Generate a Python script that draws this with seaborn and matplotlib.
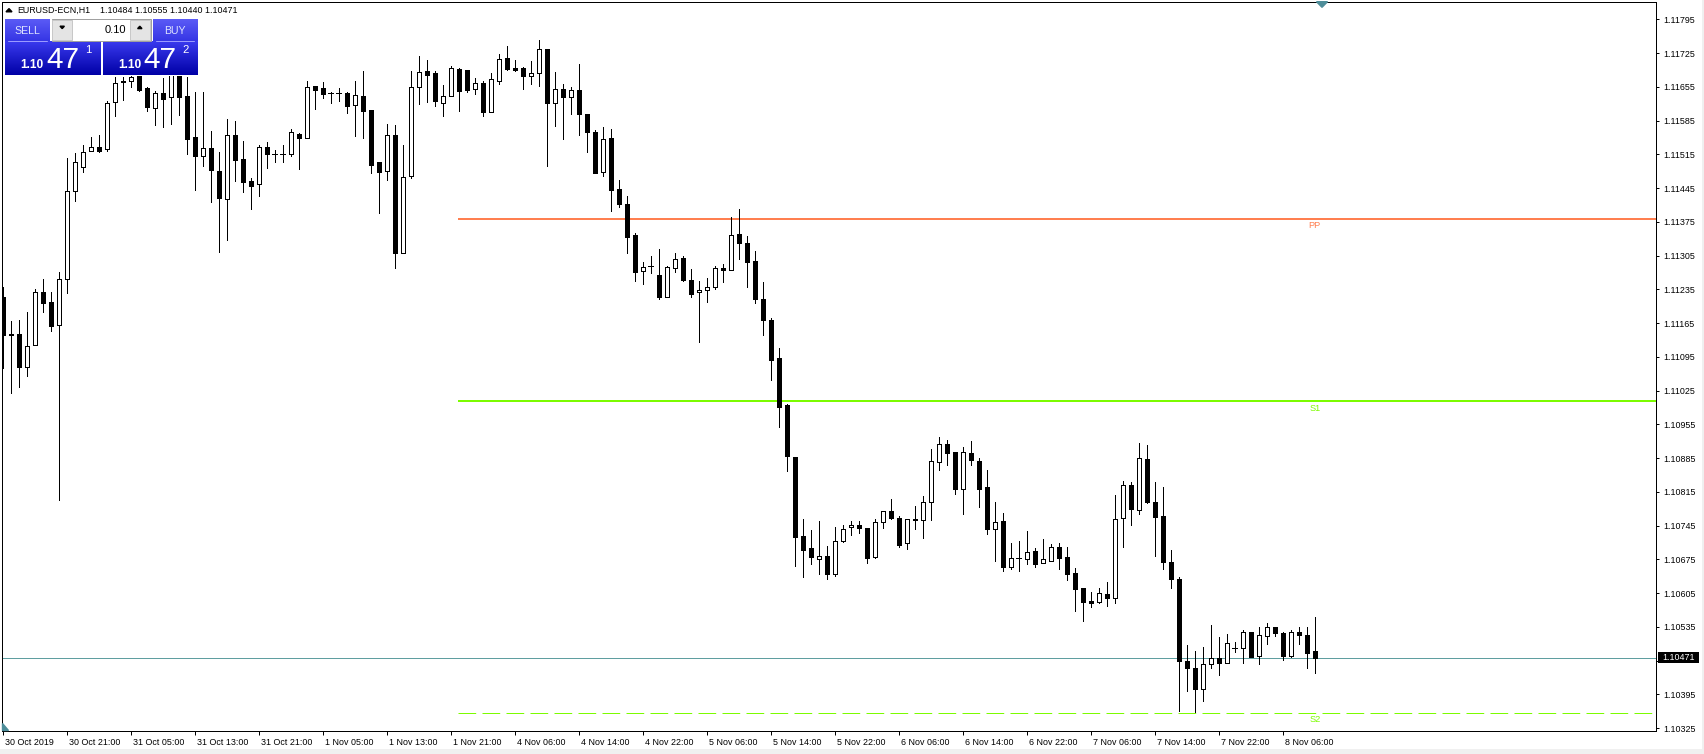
import numpy as np
import matplotlib
matplotlib.use("Agg")
import matplotlib.pyplot as plt
import matplotlib.colors as mcolors
import matplotlib.transforms as mtransforms
from matplotlib.patches import Rectangle, Polygon
import seaborn as sns

# ---------------- data (EURUSD-ECN, H1) ----------------
opens = [1.11218, 1.11140, 1.11142, 1.11074, 1.11119, 1.11229, 1.11208, 1.11160, 1.11256, 1.11438,
         1.11488, 1.11521, 1.11530, 1.11527, 1.11623, 1.11666, 1.11666, 1.11690, 1.11652, 1.11612,
         1.11642, 1.11633, 1.11679, 1.11636, 1.11550, 1.11512, 1.11528, 1.11480, 1.11423, 1.11556,
         1.11505, 1.11460, 1.11453, 1.11530, 1.11516, 1.11516, 1.11516, 1.11557, 1.11548, 1.11657,
         1.11652, 1.11642, 1.11642, 1.11642, 1.11618, 1.11636, 1.11607, 1.11498, 1.11481, 1.11554,
         1.11311, 1.11469, 1.11654, 1.11687, 1.11683, 1.11621, 1.11635, 1.11691, 1.11690, 1.11650,
         1.11663, 1.11602, 1.11668, 1.11714, 1.11694, 1.11694, 1.11677, 1.11683, 1.11733, 1.11622,
         1.11650, 1.11633, 1.11648, 1.11599, 1.11561, 1.11479, 1.11548, 1.11443, 1.11411, 1.11348,
         1.11272, 1.11283, 1.11264, 1.11220, 1.11279, 1.11300, 1.11255, 1.11229, 1.11234, 1.11239,
         1.11279, 1.11276, 1.11350, 1.11332, 1.11293, 1.11215, 1.11171, 1.11093, 1.10995, 1.10888,
         1.10724, 1.10698, 1.10676, 1.10682, 1.10645, 1.10713, 1.10741, 1.10746, 1.10739, 1.10680,
         1.10752, 1.10775, 1.10761, 1.10708, 1.10759, 1.10756, 1.10794, 1.10877, 1.10914, 1.10897,
         1.10820, 1.10895, 1.10879, 1.10824, 1.10737, 1.10754, 1.10658, 1.10677, 1.10675, 1.10692,
         1.10668, 1.10672, 1.10700, 1.10680, 1.10646, 1.10615, 1.10588, 1.10587, 1.10604, 1.10595,
         1.10760, 1.10830, 1.10777, 1.10882, 1.10793, 1.10765, 1.10669, 1.10634, 1.10464, 1.10449,
         1.10407, 1.10457, 1.10470, 1.10459, 1.10492, 1.10490, 1.10524, 1.10474, 1.10516, 1.10534,
         1.10522, 1.10475, 1.10524, 1.10517, 1.10484]
highs = [1.11240, 1.11169, 1.11171, 1.11188, 1.11236, 1.11256, 1.11229, 1.11270, 1.11508, 1.11517,
         1.11534, 1.11550, 1.11555, 1.11626, 1.11676, 1.11676, 1.11683, 1.11698, 1.11655, 1.11646,
         1.11673, 1.11700, 1.11690, 1.11676, 1.11645, 1.11644, 1.11563, 1.11520, 1.11588, 1.11585,
         1.11543, 1.11466, 1.11534, 1.11540, 1.11524, 1.11534, 1.11567, 1.11559, 1.11667, 1.11657,
         1.11664, 1.11644, 1.11652, 1.11644, 1.11667, 1.11688, 1.11607, 1.11498, 1.11577, 1.11575,
         1.11534, 1.11688, 1.11719, 1.11711, 1.11688, 1.11659, 1.11698, 1.11693, 1.11690, 1.11673,
         1.11666, 1.11683, 1.11723, 1.11740, 1.11711, 1.11697, 1.11708, 1.11753, 1.11733, 1.11685,
         1.11661, 1.11654, 1.11702, 1.11599, 1.11565, 1.11571, 1.11568, 1.11461, 1.11429, 1.11352,
         1.11291, 1.11305, 1.11318, 1.11283, 1.11311, 1.11304, 1.11277, 1.11252, 1.11259, 1.11283,
         1.11288, 1.11384, 1.11402, 1.11345, 1.11314, 1.11250, 1.11176, 1.11114, 1.10997, 1.10888,
         1.10759, 1.10736, 1.10754, 1.10702, 1.10741, 1.10746, 1.10754, 1.10754, 1.10739, 1.10759,
         1.10775, 1.10800, 1.10765, 1.10759, 1.10786, 1.10806, 1.10904, 1.10929, 1.10922, 1.10897,
         1.10907, 1.10920, 1.10886, 1.10860, 1.10793, 1.10772, 1.10708, 1.10713, 1.10734, 1.10699,
         1.10717, 1.10707, 1.10709, 1.10701, 1.10657, 1.10615, 1.10608, 1.10616, 1.10627, 1.10808,
         1.10837, 1.10836, 1.10917, 1.10912, 1.10836, 1.10824, 1.10694, 1.10639, 1.10497, 1.10485,
         1.10493, 1.10539, 1.10514, 1.10520, 1.10503, 1.10528, 1.10525, 1.10535, 1.10542, 1.10534,
         1.10524, 1.10528, 1.10534, 1.10534, 1.10555]
lows = [1.11071, 1.11019, 1.11033, 1.11056, 1.11119, 1.11188, 1.11149, 1.10798, 1.11227, 1.11419,
        1.11479, 1.11521, 1.11520, 1.11522, 1.11595, 1.11628, 1.11655, 1.11646, 1.11605, 1.11576,
        1.11572, 1.11578, 1.11596, 1.11516, 1.11441, 1.11491, 1.11416, 1.11313, 1.11337, 1.11460,
        1.11437, 1.11402, 1.11429, 1.11487, 1.11498, 1.11500, 1.11511, 1.11485, 1.11548, 1.11609,
        1.11632, 1.11622, 1.11625, 1.11601, 1.11553, 1.11549, 1.11477, 1.11394, 1.11462, 1.11280,
        1.11311, 1.11466, 1.11619, 1.11623, 1.11615, 1.11594, 1.11635, 1.11605, 1.11645, 1.11640,
        1.11595, 1.11602, 1.11660, 1.11690, 1.11688, 1.11650, 1.11661, 1.11657, 1.11491, 1.11574,
        1.11547, 1.11598, 1.11555, 1.11520, 1.11477, 1.11471, 1.11397, 1.11406, 1.11311, 1.11252,
        1.11245, 1.11268, 1.11215, 1.11220, 1.11271, 1.11252, 1.11218, 1.11126, 1.11209, 1.11236,
        1.11250, 1.11276, 1.11298, 1.11240, 1.11207, 1.11140, 1.11047, 1.10950, 1.10859, 1.10661,
        1.10638, 1.10665, 1.10645, 1.10635, 1.10641, 1.10711, 1.10725, 1.10729, 1.10667, 1.10678,
        1.10739, 1.10758, 1.10701, 1.10696, 1.10738, 1.10720, 1.10757, 1.10860, 1.10871, 1.10810,
        1.10769, 1.10871, 1.10784, 1.10727, 1.10671, 1.10651, 1.10655, 1.10651, 1.10665, 1.10660,
        1.10668, 1.10672, 1.10655, 1.10632, 1.10568, 1.10548, 1.10577, 1.10585, 1.10579, 1.10585,
        1.10701, 1.10746, 1.10769, 1.10792, 1.10682, 1.10654, 1.10615, 1.10361, 1.10402, 1.10358,
        1.10382, 1.10450, 1.10434, 1.10459, 1.10483, 1.10459, 1.10473, 1.10457, 1.10499, 1.10516,
        1.10467, 1.10472, 1.10499, 1.10450, 1.10440]
closes = [1.11140, 1.11142, 1.11074, 1.11117, 1.11229, 1.11207, 1.11159, 1.11256, 1.11438, 1.11498,
          1.11519, 1.11530, 1.11522, 1.11621, 1.11662, 1.11665, 1.11676, 1.11648, 1.11614, 1.11642,
          1.11629, 1.11690, 1.11634, 1.11547, 1.11511, 1.11528, 1.11482, 1.11425, 1.11556, 1.11503,
          1.11458, 1.11450, 1.11530, 1.11515, 1.11516, 1.11516, 1.11561, 1.11548, 1.11654, 1.11648,
          1.11640, 1.11642, 1.11642, 1.11616, 1.11637, 1.11605, 1.11493, 1.11479, 1.11554, 1.11311,
          1.11467, 1.11654, 1.11685, 1.11680, 1.11626, 1.11635, 1.11693, 1.11647, 1.11648, 1.11662,
          1.11602, 1.11671, 1.11712, 1.11692, 1.11690, 1.11678, 1.11683, 1.11733, 1.11622, 1.11650,
          1.11633, 1.11648, 1.11598, 1.11561, 1.11477, 1.11546, 1.11440, 1.11411, 1.11343, 1.11271,
          1.11281, 1.11283, 1.11218, 1.11281, 1.11297, 1.11254, 1.11226, 1.11234, 1.11240, 1.11279,
          1.11276, 1.11347, 1.11332, 1.11291, 1.11215, 1.11171, 1.11089, 1.10991, 1.10890, 1.10722,
          1.10695, 1.10679, 1.10682, 1.10645, 1.10713, 1.10738, 1.10746, 1.10739, 1.10678, 1.10752,
          1.10775, 1.10761, 1.10705, 1.10759, 1.10756, 1.10793, 1.10879, 1.10914, 1.10895, 1.10821,
          1.10897, 1.10880, 1.10821, 1.10738, 1.10752, 1.10660, 1.10677, 1.10677, 1.10690, 1.10665,
          1.10675, 1.10700, 1.10678, 1.10644, 1.10613, 1.10587, 1.10585, 1.10606, 1.10595, 1.10758,
          1.10830, 1.10779, 1.10886, 1.10794, 1.10763, 1.10670, 1.10635, 1.10465, 1.10449, 1.10407,
          1.10457, 1.10470, 1.10459, 1.10501, 1.10492, 1.10524, 1.10473, 1.10517, 1.10535, 1.10522,
          1.10474, 1.10524, 1.10519, 1.10481, 1.10471]

date_ticks = ["30 Oct 2019", "30 Oct 21:00", "31 Oct 05:00", "31 Oct 13:00", "31 Oct 21:00",
              "1 Nov 05:00", "1 Nov 13:00", "1 Nov 21:00", "4 Nov 06:00", "4 Nov 14:00",
              "4 Nov 22:00", "5 Nov 06:00", "5 Nov 14:00", "5 Nov 22:00", "6 Nov 06:00",
              "6 Nov 14:00", "6 Nov 22:00", "7 Nov 06:00", "7 Nov 14:00", "7 Nov 22:00",
              "8 Nov 06:00"]
date_tick_step = 8          # one label every 8 hourly bars

price_ticks = [1.10325, 1.10395, 1.10465, 1.10535, 1.10605, 1.10675, 1.10745, 1.10815,
               1.10885, 1.10955, 1.11025, 1.11095, 1.11165, 1.11235, 1.11305, 1.11375,
               1.11445, 1.11515, 1.11585, 1.11655, 1.11725, 1.11795]
hidden_price_tick = 1.10465   # covered by the bid label on the price scale

pivot_names = ["PP", "S1", "S2"]
pivot_values = [1.11381, 1.11003, 1.10357]
pivot_start_bar = 56.9

symbol = "EURUSD-ECN,H1"
bid_price = 1.10471

# ---------------- style ----------------
sns.set_theme(style="white", rc={"axes.edgecolor": "black", "axes.linewidth": 0.75,
                                 "xtick.color": "black", "ytick.color": "black"})
plt.rcParams["font.family"] = ["Liberation Sans", "DejaVu Sans"]

W, H = 1704, 754
fig = plt.figure(figsize=(W / 100, H / 100), dpi=100, facecolor="white")
ax = fig.add_axes([1.7 / W, (H - 730.7) / H, (1656 - 1.7) / W, (730.7 - 1.7) / H])
ax.set_facecolor("white")

o = np.array(opens); h = np.array(highs); l = np.array(lows); c = np.array(closes)
idx = np.arange(len(o))
up, dn, eq = c > o, c < o, c == o

lw1 = 0.72  # one pixel
ax.vlines(idx, l, h, color="black", lw=lw1, zorder=2, antialiased=False)
ax.bar(idx[up], (c - o)[up], bottom=o[up], width=0.55, facecolor="white",
       edgecolor="black", linewidth=lw1, zorder=3, antialiased=False)
ax.bar(idx[dn], (o - c)[dn], bottom=c[dn], width=0.55, facecolor="black",
       edgecolor="black", linewidth=lw1, zorder=3, antialiased=False)
ax.hlines(o[eq], idx[eq] - 0.32, idx[eq] + 0.32, color="black", lw=lw1, zorder=3,
          antialiased=False)

xmin, xmax = -0.125, 206.66
ax.set_xlim(xmin, xmax)
ax.set_ylim(1.103195, 1.118315)

# bid line
ax.axhline(bid_price, color="#5f9ea0", lw=lw1, zorder=1)

# pivot levels
piv_colors = ["#ff7f50", "#7cfc00", "#7cfc00"]
piv_styles = ["-", "-", (0, (17.7, 6.3))]
piv_widths = [1.44, 1.44, lw1]
lab_off = mtransforms.offset_copy(ax.transData, fig=fig, x=0, y=-2.5, units="dots")
for name, val, col, ls, lw in zip(pivot_names, pivot_values, piv_colors, piv_styles, piv_widths):
    ax.plot([pivot_start_bar, xmax], [val, val], color=col, lw=lw, ls=ls, zorder=1.5,
            solid_capstyle="butt")
    ax.text(idx[-1], val, name, color=col, fontsize=6.6, ha="center", va="top",
            transform=lab_off, zorder=4)

# axes / ticks
for s in ax.spines.values():
    s.set_color("black"); s.set_linewidth(lw1)
ax.yaxis.tick_right()
ax.set_yticks(price_ticks)
ax.set_yticklabels(["" if t == hidden_price_tick else f"{t:.5f}" for t in price_ticks])
ax.tick_params(axis="y", which="both", right=True, left=False, direction="out",
               length=2.3, width=lw1, pad=3.0, labelsize=6.4)
xt = np.arange(len(date_ticks)) * date_tick_step
ax.set_xticks(xt)
ax.set_xticklabels(date_ticks)
ax.tick_params(axis="x", bottom=True, direction="out", length=3.0, width=lw1, pad=2.6,
               labelsize=6.4)
shift = mtransforms.ScaledTranslation(2 / 100, 0, fig.dpi_scale_trans)
for lab in ax.get_xticklabels():
    lab.set_horizontalalignment("left")
    lab.set_transform(lab.get_transform() + shift)
for lab in ax.get_yticklabels():
    lab.set_horizontalalignment("left")
ax.grid(False)

# bid label box on the price scale
blend = mtransforms.blended_transform_factory(ax.transAxes, ax.transData)
axw = 1656 - 1.7
ax.add_patch(Rectangle(((1658.3 - 1.7) / axw, bid_price - 0.000117), 40.7 / axw, 0.000234,
                       transform=blend, facecolor="black", edgecolor="none",
                       clip_on=False, zorder=20))
ax.text((1662.7 - 1.7) / axw, bid_price, f"{bid_price:.5f}", transform=blend, color="white",
        fontsize=6.4, ha="left", va="center", clip_on=False, zorder=21)

# ---------------- overlay: header + one-click trading panel ----------------
ov = fig.add_axes([0, 0, 1, 1], zorder=10)
ov.patch.set_alpha(0)
ov.axis("off")


def grad(x0, x1, y0, y1, ctop, cbot):
    t = np.linspace(0, 1, 64)[:, None]
    ct = np.array(mcolors.to_rgb(ctop)); cb = np.array(mcolors.to_rgb(cbot))
    img = (ct * (1 - t) + cb * t)[:, None, :]
    ov.imshow(img, extent=(x0, x1, y1, y0), aspect="auto", origin="upper",
              interpolation="bilinear", zorder=2)


# header
ov.add_patch(Polygon([(6, 11.8), (12, 11.8), (9, 8.6)], closed=True, color="black", zorder=3))
ov.text(17.3, 12.6, symbol, fontsize=6.4, color="black", va="baseline", ha="left")
ov.text(100, 12.6, f"{opens[-1]:.5f} {highs[-1]:.5f} {lows[-1]:.5f} {closes[-1]:.5f}",
        fontsize=6.4, color="black", va="baseline", ha="left")

# panel background
ov.add_patch(Rectangle((4, 18), 195, 58, facecolor="white", edgecolor="none", zorder=1))
# SELL / BUY buttons
grad(5, 50, 19, 41.7, "#5b5bf6", "#3434e4")
grad(152.7, 197.7, 19, 41.7, "#5b5bf6", "#3434e4")
ov.plot([8.3, 46.7], [40.7, 40.7], color="#9a9aff", lw=0.72, zorder=3)
ov.plot([156, 194.3], [40.7, 40.7], color="#9a9aff", lw=0.72, zorder=3)
ov.text(27.4, 34, "SELL", fontsize=7.6, color="#dfe4ff", ha="center", va="baseline", zorder=4)
ov.text(174.6, 34, "BUY", fontsize=7.6, color="#dfe4ff", ha="center", va="baseline", zorder=4)
# lot box
ov.add_patch(Rectangle((51.7, 19), 99, 21.7, facecolor="white", edgecolor="#a0a0a0",
                       lw=0.72, zorder=3))
ov.add_patch(Rectangle((52.4, 19.7), 19.6, 20.3, facecolor="#e4e4e4", edgecolor="#c8c8c8",
                       lw=0.72, zorder=3))
ov.add_patch(Rectangle((130.4, 19.7), 19.6, 20.3, facecolor="#e4e4e4", edgecolor="#c8c8c8",
                       lw=0.72, zorder=3))
ov.add_patch(Polygon([(60, 26.2), (64.4, 26.2), (62.2, 28.6)], closed=True, color="black", zorder=4))
ov.add_patch(Polygon([(137.6, 28.6), (142, 28.6), (139.8, 26.2)], closed=True, color="black", zorder=4))
ov.text(126, 33.4, "0.10", fontsize=8.0, color="black", ha="right", va="baseline", zorder=4)
# price boxes
grad(5, 100.7, 41.7, 75, "#3a3aee", "#0000a6")
grad(103.3, 197.7, 41.7, 75, "#3a3aee", "#0000a6")
for x0, big, sup in [(20.7, "47", "1"), (118.0, "47", "2")]:
    ov.text(x0, 68.4, "1.10", fontsize=8.6, fontweight="bold", color="white",
            ha="left", va="baseline", zorder=4)
    ov.text(x0 + 25.6, 68.4, big, fontsize=21.5, color="white", ha="left", va="baseline", zorder=4)
    ov.text(x0 + 64.3, 53.4, sup, fontsize=8.2, color="white", ha="left", va="baseline", zorder=4)

# small chart markers
ov.add_patch(Polygon([(1316.5, 1.7), (1327.5, 1.7), (1322, 7.3)], closed=True,
                     color="#4e8d99", zorder=3))
ov.add_patch(Polygon([(2.2, 722.5), (2.2, 730.2), (8.2, 730.2)], closed=True,
                     color="#4e8d99", zorder=3))
# window frame strips
ov.add_patch(Rectangle((1701.5, 0), 3, H, facecolor="#f0f0f0", edgecolor="none", zorder=1))
ov.add_patch(Rectangle((0, 748.5), W, 6, facecolor="#f0f0f0", edgecolor="none", zorder=1))

ov.set_xlim(0, W)
ov.set_ylim(H, 0)

fig.savefig("out.png", dpi=100, facecolor="white")
